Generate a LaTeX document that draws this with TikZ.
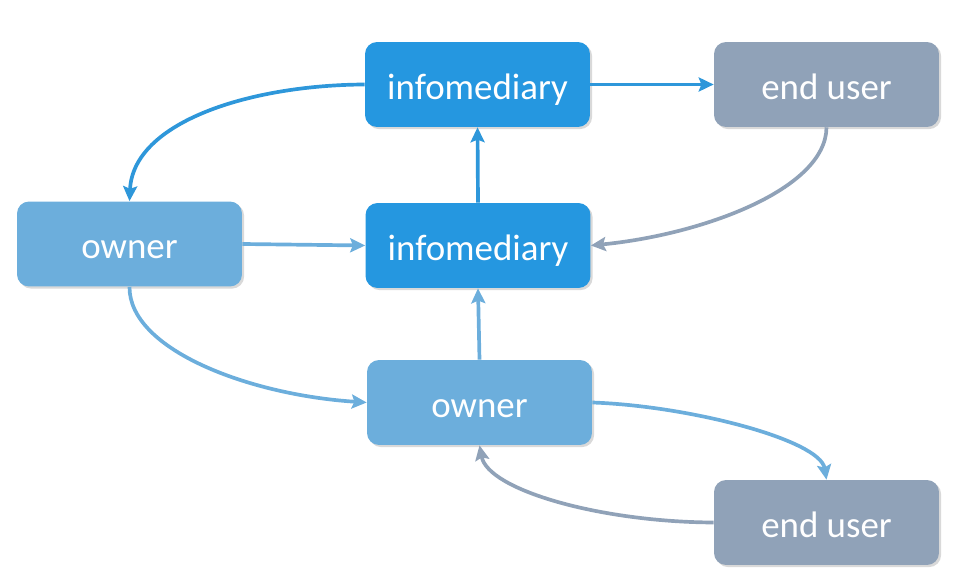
\documentclass[tikz,border=0pt]{standalone}
\usepackage{fontspec}
\setmainfont{Carlito}
\usetikzlibrary{arrows.meta,shadows}
\definecolor{infoc}{HTML}{2597E0}
\definecolor{ownerc}{HTML}{6CAEDC}
\definecolor{userc}{HTML}{90A2B8}
\definecolor{infoa}{HTML}{2E97DA}
\begin{document}
\begin{tikzpicture}[x=0.02cm,y=-0.02cm,
  box/.style={rounded corners=0.24cm,minimum width=4.5cm,minimum height=1.7cm,
    text=white,font=\fontsize{21}{25}\selectfont,inner sep=0pt,
    text height=17pt,text depth=0pt,
    drop shadow={shadow xshift=1.2pt,shadow yshift=-1.2pt,opacity=0.25,fill=black!60}},
  infobox/.style={box,fill=infoc},
  ownerbox/.style={box,fill=ownerc},
  userbox/.style={box,fill=userc},
  conn/.style={line width=2.1pt,-{Stealth[length=8.5pt,width=8pt,inset=1.5pt]}},
  infoconn/.style={conn,draw=infoa},
  ownerconn/.style={conn,draw=ownerc},
  userconn/.style={conn,draw=userc}]
\useasboundingbox (0,0) rectangle (977,580);
\node[infobox] (infotop) at (477.5,84.5) {infomediary};
\node[userbox] (usertop) at (826.5,84.5) {end user};
\node[ownerbox] (ownerl) at (129.5,244) {owner};
\node[infobox] (infomid) at (478,245.5) {infomediary};
\node[ownerbox] (ownermid) at (479.5,402.5) {owner};
\node[userbox] (userbot) at (826.5,522.5) {end user};

\draw[infoconn] (infotop.west) .. controls (250,85) and (133,122) .. (ownerl.north);
\draw[infoconn] (infotop.east) -- (usertop.west);
\draw[infoconn] (infomid.north) -- (infotop.south);
\draw[userconn] (usertop.south) .. controls (826,190) and (700,235) .. (infomid.east);
\draw[ownerconn] (ownerl.east) -- (infomid.west);
\draw[ownerconn] (ownerl.south) .. controls (129,350) and (250,395) .. (ownermid.west);
\draw[ownerconn] (ownermid.north) -- (infomid.south);
\draw[ownerconn] (ownermid.east) .. controls (690,406) and (820,440) .. (userbot.north);
\draw[userconn] (userbot.west) .. controls (600,522) and (488,490) .. (ownermid.south);
\end{tikzpicture}
\end{document}
